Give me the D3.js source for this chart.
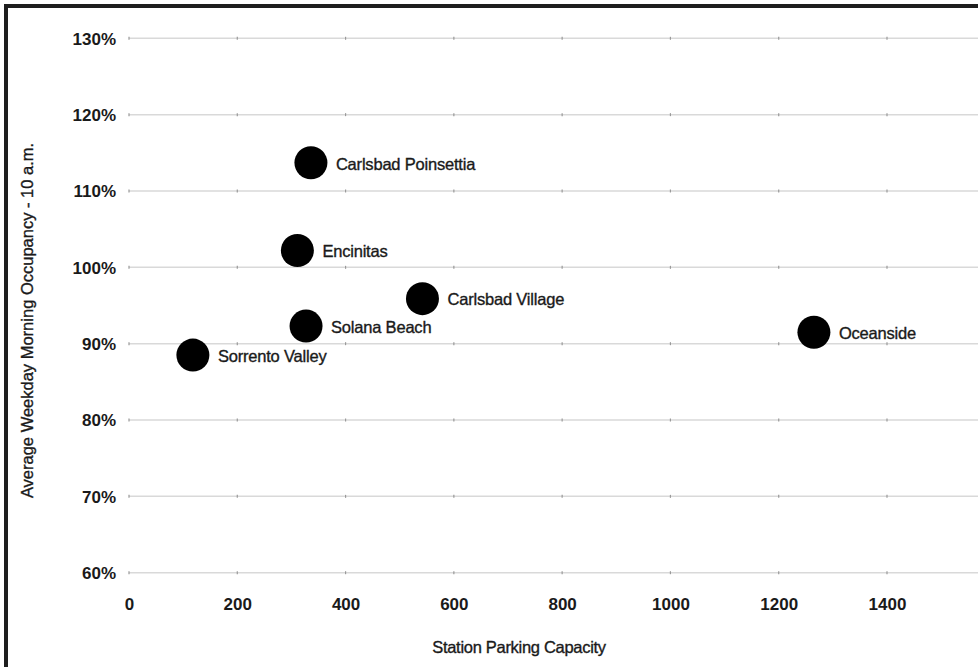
<!DOCTYPE html>
<html>
<head>
<meta charset="utf-8">
<script src="https://cdn.jsdelivr.net/npm/d3@7"></script>
<style>
  html, body { margin: 0; padding: 0; background: #fff; }
  svg { display: block; }
  text { font-family: "Liberation Sans", Arial, Helvetica, sans-serif; fill: #1a1a1a; }
  .heavy { stroke: #1a1a1a; stroke-width: 0.35px; }
</style>
</head>
<body>
<svg id="chart" width="978" height="667"></svg>
<script>
// ---- Data ----
const stations   = ["Carlsbad Poinsettia", "Encinitas", "Carlsbad Village", "Solana Beach", "Sorrento Valley", "Oceanside"];
const capacity   = [336, 311, 542, 327, 118, 1265];
const occupancy  = [113.7, 102.2, 95.9, 92.3, 88.5, 91.5];
const xTickVals  = [0, 200, 400, 600, 800, 1000, 1200, 1400];
const yTickVals  = [60, 70, 80, 90, 100, 110, 120, 130];
const xTitle = "Station Parking Capacity";
const yTitle = "Average Weekday Morning Occupancy - 10 a.m.";

// ---- Layout ----
const svg = d3.select("#chart");
const W = 978, H = 667;

const x = d3.scaleLinear().domain([0, 1400]).range([129, 887]);
const y = d3.scaleLinear().domain([60, 130]).range([572.7, 38.3]);

// frame
svg.append("rect")
  .attr("x", 6).attr("y", 6)
  .attr("width", W + 20).attr("height", H + 20)
  .attr("fill", "none").attr("stroke", "#1e1e1e").attr("stroke-width", 4);

// gridlines
const grid = svg.append("g");
grid.selectAll("line.grid").data(yTickVals).join("line")
  .attr("class", "grid")
  .attr("x1", x(0)).attr("x2", W)
  .attr("y1", d => y(d)).attr("y2", d => y(d))
  .attr("stroke", "#d9d9d9").attr("stroke-width", 1.5);

// small tick dots on gridlines
yTickVals.forEach(v => {
  grid.selectAll(null).data(xTickVals).join("line")
    .attr("x1", d => x(d)).attr("x2", d => x(d))
    .attr("y1", y(v) - 1.5).attr("y2", y(v) + 1.5)
    .attr("stroke", "#9a9a9a").attr("stroke-width", 1.2);
});

// x axis labels via d3 axis
const xAxis = d3.axisBottom(x).tickValues(xTickVals).tickSize(0).tickPadding(0).tickFormat(d3.format("d"));
const gx = svg.append("g").attr("transform", "translate(0,604)").call(xAxis);
gx.select(".domain").remove();
gx.selectAll("text")
  .attr("dy", "0.35em").attr("y", 0)
  .style("font-size", "17px").style("font-weight", "bold")
  .style("font-family", "'Liberation Sans', Arial, sans-serif").attr("fill", "#1a1a1a");

// y axis labels via d3 axis
const yAxis = d3.axisLeft(y).tickValues(yTickVals).tickSize(0).tickPadding(0).tickFormat(d => d + "%");
const gy = svg.append("g").attr("transform", "translate(116,0)").call(yAxis);
gy.select(".domain").remove();
gy.selectAll("text")
  .attr("x", 0).attr("dy", "0.35em")
  .style("font-size", "17px").style("font-weight", "bold")
  .style("font-family", "'Liberation Sans', Arial, sans-serif").attr("fill", "#1a1a1a");

// axis titles
svg.append("text").attr("class", "heavy")
  .attr("x", 519).attr("y", 647).attr("dy", "0.35em")
  .attr("text-anchor", "middle")
  .style("font-size", "16.5px").style("letter-spacing", "-0.3px")
  .text(xTitle);

svg.append("text").attr("class", "heavy")
  .attr("transform", "translate(27,320.5) rotate(-90)")
  .attr("dy", "0.35em")
  .attr("text-anchor", "middle")
  .style("font-size", "16.5px")
  .text(yTitle);

// points
const pts = stations.map((s, i) => ({ name: s, cap: capacity[i], occ: occupancy[i] }));
svg.append("g").selectAll("circle").data(pts).join("circle")
  .attr("cx", d => x(d.cap)).attr("cy", d => y(d.occ))
  .attr("r", 16.5).attr("fill", "#000");

svg.append("g").selectAll("text").data(pts).join("text")
  .attr("class", "heavy")
  .attr("x", d => x(d.cap) + 25).attr("y", d => y(d.occ) + 1)
  .attr("dy", "0.35em")
  .style("font-size", "16.5px").style("letter-spacing", "-0.2px")
  .text(d => d.name);
</script>
</body>
</html>
